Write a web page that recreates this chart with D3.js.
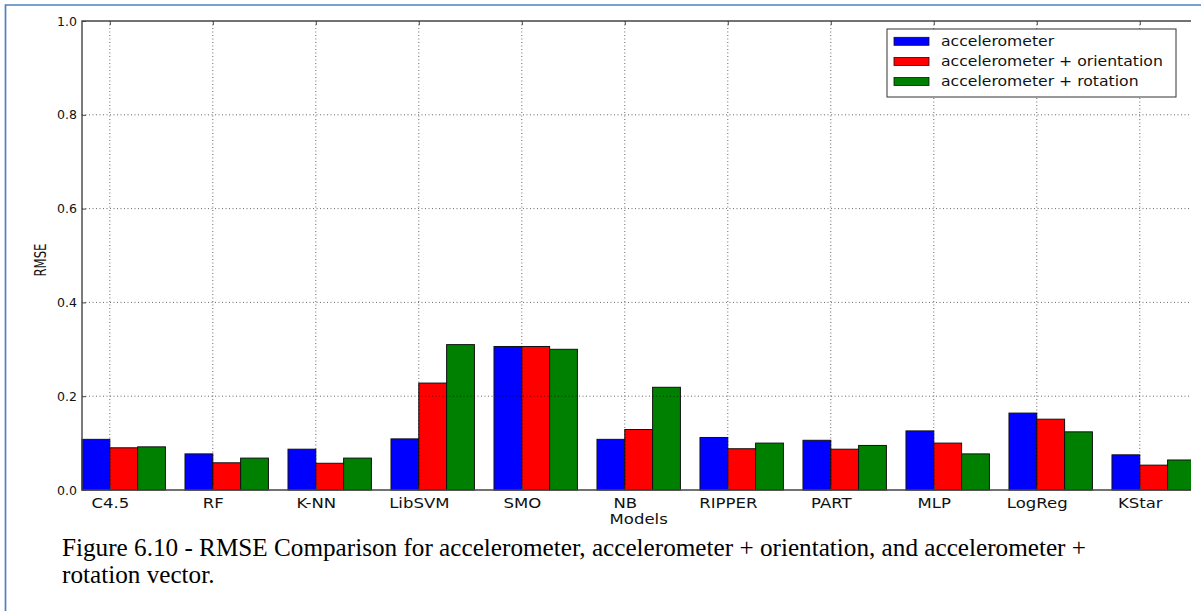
<!DOCTYPE html>
<html>
<head>
<meta charset="utf-8">
<script src="https://cdn.jsdelivr.net/npm/d3@7"></script>
<style>
  html, body { margin: 0; padding: 0; background: #fff; }
  svg { display: block; }
</style>
</head>
<body>
<svg id="chart" width="1201" height="611"></svg>
<script>
// RMSE per model for three sensor combinations
const models = ["C4.5", "RF", "K-NN", "LibSVM", "SMO", "NB", "RIPPER", "PART", "MLP", "LogReg", "KStar"];
const accel = [0.108, 0.077, 0.087, 0.109, 0.306, 0.108, 0.112, 0.106, 0.126, 0.164, 0.075];
const accelOrient = [0.090, 0.058, 0.057, 0.228, 0.306, 0.129, 0.088, 0.087, 0.100, 0.151, 0.053];
const accelRot = [0.092, 0.068, 0.068, 0.310, 0.300, 0.219, 0.100, 0.095, 0.077, 0.124, 0.064];
const seriesNames = ["accelerometer", "accelerometer + orientation", "accelerometer + rotation"];
const seriesColors = ["#0000ff", "#ff0000", "#008000"];
const yTicks = [0.0, 0.2, 0.4, 0.6, 0.8, 1.0];
const captionLines = [
  "Figure 6.10 - RMSE Comparison for accelerometer, accelerometer + orientation, and accelerometer +",
  "rotation vector."
];

const series = [accel, accelOrient, accelRot];
const barW = 0.27;

const svg = d3.select("#chart");

// page frame
svg.append("path")
  .attr("d", "M5.5,611 L5.5,5 L1201,5")
  .attr("fill", "none")
  .attr("stroke", "#4f81bd")
  .attr("stroke-width", 1.7);

const x = d3.scaleLinear().domain([0, models.length - 1 + 3 * barW]).range([82, 1195.4]);
const y = d3.scaleLinear().domain([0, 1]).range([490, 21]);

svg.append("clipPath").attr("id", "pageClip")
  .append("rect").attr("x", 0).attr("y", 0).attr("width", 1191).attr("height", 611);

const plot = svg.append("g").attr("clip-path", "url(#pageClip)");

// bars
series.forEach((vals, s) => {
  plot.append("g").selectAll("rect")
    .data(vals)
    .join("rect")
    .attr("x", (d, i) => x(i + s * barW))
    .attr("y", d => y(d))
    .attr("width", x(barW) - x(0))
    .attr("height", d => y(0) - y(d))
    .attr("fill", seriesColors[s])
    .attr("stroke", "#111")
    .attr("stroke-width", 1);
});

const tickX = models.map((m, i) => i + barW);

// dotted grid drawn over the bars
const grid = plot.append("g")
  .attr("stroke", "#000")
  .attr("stroke-width", 0.6)
  .attr("stroke-dasharray", "1,2.5");
grid.selectAll("line.v").data(tickX).join("line").attr("class", "v")
  .attr("x1", d => x(d)).attr("x2", d => x(d))
  .attr("y1", y(1)).attr("y2", y(0));
grid.selectAll("line.h").data(yTicks.filter(t => t > 0 && t < 1)).join("line").attr("class", "h")
  .attr("x1", x.range()[0]).attr("x2", x.range()[1])
  .attr("y1", d => y(d)).attr("y2", d => y(d));

// axes: ticks point inward on every side
const axisLeft = d3.axisLeft(y).tickValues(yTicks).tickFormat(d3.format(".1f")).tickSize(-4).tickPadding(5);
const gL = plot.append("g").attr("transform", `translate(${x.range()[0]},0)`).call(axisLeft);
gL.select(".domain").remove();
gL.selectAll(".tick line").attr("stroke", "#444");
gL.selectAll(".tick text")
  .attr("font-family", "'DejaVu Sans', sans-serif")
  .attr("font-size", 12.5)
  .attr("fill", "#111");

const axisTop = d3.axisTop(x).tickValues(tickX).tickFormat("").tickSize(-4);
const gT = plot.append("g").attr("transform", `translate(0,${y(1)})`).call(axisTop);
gT.select(".domain").remove();
gT.selectAll(".tick line").attr("stroke", "#444");

const axisBottom = d3.axisBottom(x).tickValues(tickX).tickFormat((d, i) => models[i]).tickSize(-4).tickPadding(8);
const gB = plot.append("g").attr("transform", `translate(0,${y(0)})`).call(axisBottom);
gB.select(".domain").remove();
gB.selectAll(".tick line").attr("stroke", "#444");
gB.selectAll(".tick text")
  .attr("font-family", "'DejaVu Sans', sans-serif")
  .attr("font-size", 14.5)
  .attr("fill", "#111")
  .attr("transform", "scale(1.14,1)");

// spines (right side falls outside the page)
plot.append("path")
  .attr("d", `M${x.range()[1]},${y(1)} L${x.range()[0]},${y(1)} L${x.range()[0]},${y(0)} L${x.range()[1]},${y(0)}`)
  .attr("fill", "none")
  .attr("stroke", "#444")
  .attr("stroke-width", 1.4);

// axis titles
svg.append("text")
  .attr("transform", `translate(${(x.range()[0] + x.range()[1]) / 2},524) scale(1.14,1)`)
  .attr("text-anchor", "middle")
  .attr("font-family", "'DejaVu Sans', sans-serif")
  .attr("font-size", 14.5)
  .attr("fill", "#111")
  .text("Models");

svg.append("text")
  .attr("transform", "translate(46,260) rotate(-90)")
  .attr("text-anchor", "middle")
  .attr("font-family", "'DejaVu Sans', sans-serif")
  .attr("font-size", 15.5)
  .attr("textLength", 33)
  .attr("lengthAdjust", "spacingAndGlyphs")
  .attr("fill", "#111")
  .text("RMSE");

// legend
const leg = svg.append("g").attr("transform", "translate(887,29)");
leg.append("rect")
  .attr("x", 0).attr("y", 0).attr("width", 289).attr("height", 68)
  .attr("fill", "#fff").attr("stroke", "#333").attr("stroke-width", 1);
const rows = leg.selectAll("g.row").data(seriesNames).join("g").attr("class", "row")
  .attr("transform", (d, i) => `translate(0,${12.3 + i * 20.1})`);
rows.append("rect")
  .attr("x", 7).attr("y", -4).attr("width", 35).attr("height", 8)
  .attr("fill", (d, i) => seriesColors[i])
  .attr("stroke", "#111").attr("stroke-width", 0.8);
rows.append("text")
  .attr("transform", "translate(54,4.5) scale(1.16,1)")
  .attr("font-family", "'DejaVu Sans', sans-serif")
  .attr("font-size", 13.5)
  .attr("fill", "#111")
  .text(d => d);

// figure caption
svg.append("g").selectAll("text").data(captionLines).join("text")
  .attr("x", 62)
  .attr("y", (d, i) => 556 + i * 26.5)
  .attr("font-family", "'Liberation Serif', 'Times New Roman', serif")
  .attr("font-size", 25.2)
  .attr("fill", "#000")
  .text(d => d);
</script>
</body>
</html>
